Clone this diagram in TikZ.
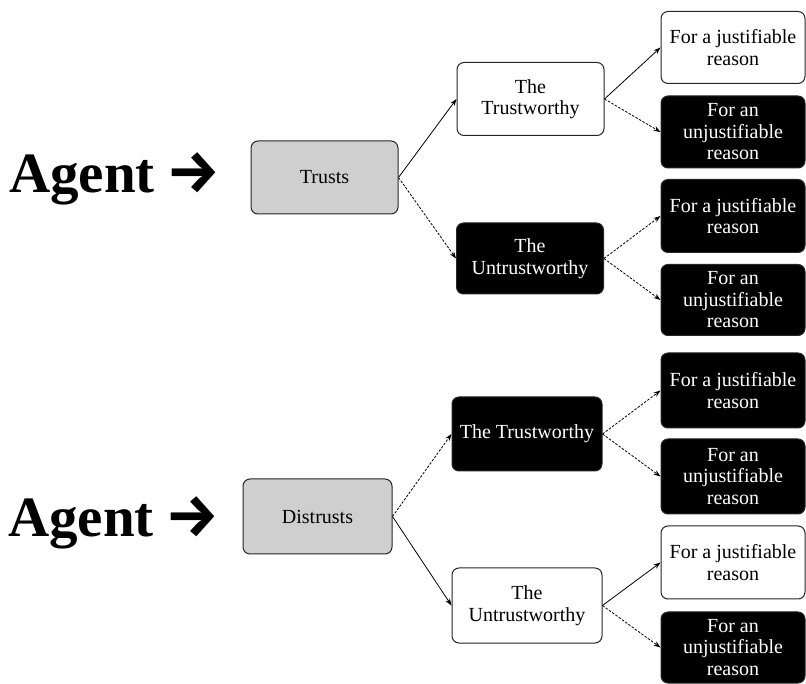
\documentclass[tikz,border=0pt]{standalone}
\usepackage{fontspec}
\setmainfont{Liberation Serif}
\newfontfamily\arrowfont{Fira Sans}
\usetikzlibrary{arrows.meta}
\newcommand{\bigarrowglyph}{{\arrowfont\bfseries\fontsize{60}{60}\selectfont →}}
\begin{document}
\begin{tikzpicture}[x=1pt,y=1pt,
  box/.style={rectangle,rounded corners=7pt,draw=black!85,line width=1pt,align=center,
    inner sep=1pt,font=\fontsize{20}{21.5}\selectfont},
  gbox/.style={box,fill=black!19,minimum width=147pt,minimum height=73pt},
  wbox/.style={box,fill=white,text=black},
  bbox/.style={box,fill=black,text=white},
  mid/.style={minimum width=147pt,minimum height=73pt},
  rgt/.style={minimum width=144pt,minimum height=72pt},
  link/.style={-{Stealth[length=7pt,width=5pt]},line width=0.8pt},
  dlink/.style={link,dash pattern=on 2.5pt off 1.5pt},
  agent/.style={anchor=base west,inner sep=0pt,font=\fontsize{57}{60}\selectfont\bfseries}]
\useasboundingbox (0,0) rectangle (806,683);
% top tree
\node[agent] (ag1) at (9,490) {Agent\hspace{12pt}\bigarrowglyph};
\node[gbox] (trusts) at (324.5,505.5) {Trusts};
\node[wbox,mid] (tw1) at (530.5,584) {The\\Trustworthy};
\node[bbox,mid,minimum height=71pt] (ut1) at (530,424.5) {The\\Untrustworthy};
\node[wbox,rgt] (r1) at (733,635.5) {For a justifiable\\reason};
\node[bbox,rgt] (r2) at (733,551) {For an\\unjustifiable\\reason};
\node[bbox,rgt,minimum height=73pt] (r3) at (733,467) {For a justifiable\\reason};
\node[bbox,rgt,minimum height=71pt] (r4) at (733,383) {For an\\unjustifiable\\reason};
% bottom tree
\node[agent] (ag2) at (8,146) {Agent\hspace{12pt}\bigarrowglyph};
\node[gbox,minimum width=149pt,minimum height=75pt] (distrusts) at (317.5,166.5) {Distrusts};
\node[bbox,mid,minimum width=150pt,minimum height=74pt] (tw2) at (527,249) {The Trustworthy};
\node[wbox,mid,minimum width=150pt,minimum height=75pt] (ut2) at (527,77.5) {The\\Untrustworthy};
\node[bbox,rgt,minimum height=75pt] (r5) at (733,292.5) {For a justifiable\\reason};
\node[bbox,rgt,minimum height=75pt] (r6) at (733,206.5) {For an\\unjustifiable\\reason};
\node[wbox,rgt,minimum height=73pt] (r7) at (733,120.5) {For a justifiable\\reason};
\node[bbox,rgt,minimum height=71pt] (r8) at (733,35.5) {For an\\unjustifiable\\reason};
% connectors
\draw[link] (trusts.east) -- (tw1.west);
\draw[dlink] (trusts.east) -- (ut1.west);
\draw[link] (tw1.east) -- (r1.west);
\draw[dlink] (tw1.east) -- (r2.west);
\draw[dlink] (ut1.east) -- (r3.west);
\draw[dlink] (ut1.east) -- (r4.west);
\draw[dlink] (distrusts.east) -- (tw2.west);
\draw[link] (distrusts.east) -- (ut2.west);
\draw[dlink] (tw2.east) -- (r5.west);
\draw[dlink] (tw2.east) -- (r6.west);
\draw[link] (ut2.east) -- (r7.west);
\draw[dlink] (ut2.east) -- (r8.west);
\end{tikzpicture}
\end{document}
